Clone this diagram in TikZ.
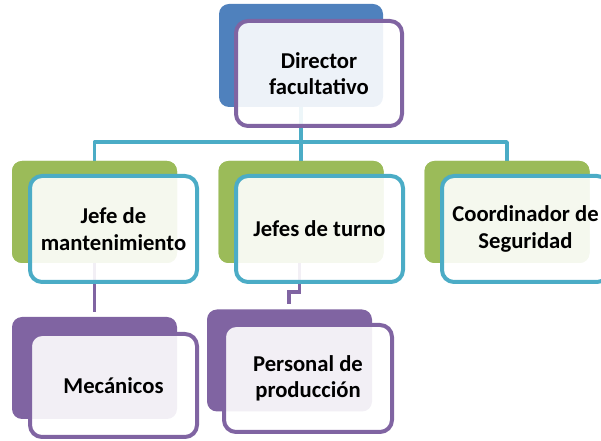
\documentclass[tikz,border=0pt]{standalone}
\usepackage{fontspec}
\setmainfont{Carlito}
\definecolor{cblue}{HTML}{4F81BD}
\definecolor{cpurple}{HTML}{8064A2}
\definecolor{cgreen}{HTML}{9BBB59}
\definecolor{cteal}{HTML}{4BACC6}
\begin{document}
\begin{tikzpicture}[x=0.75pt,y=-0.75pt,
  backbox/.style={rectangle, rounded corners=7.5pt, inner sep=0pt, minimum width=123.75pt, minimum height=76.5pt},
  frontbox/.style={rectangle, rounded corners=9pt, line width=3pt, fill=white, fill opacity=0.9, text opacity=1,
     inner sep=0pt, minimum width=125.25pt, minimum height=79.5pt, align=center,
     font=\fontsize{17}{20}\selectfont\bfseries},
  conn/.style={line width=2.6pt},
]
\useasboundingbox (0,0) rectangle (601,441);
\clip (0,0) rectangle (601,441);
% back boxes
\node[backbox, fill=cblue, minimum width=123pt, minimum height=77.25pt] (dirb) at (301,55.5) {};
\node[backbox, fill=cgreen] (jmb) at (94.5,212) {};
\node[backbox, fill=cgreen] (jtb) at (301,212) {};
\node[backbox, fill=cgreen] (csb) at (507,212) {};
\node[backbox, fill=cpurple] (mecb) at (94.5,368) {};
\node[backbox, fill=cpurple] (ppb) at (289.5,360.5) {};
% connectors
\coordinate (hb) at (300,142);
\draw[conn, cteal] (dirb.south) -- (dirb.south |- hb);
\draw[conn, cteal, line join=round] (jmb.north) -- (jmb.north |- hb) -- (csb.north |- hb) -- (csb.north);
\draw[conn, cteal] (jtb.north) -- (jtb.north |- hb);
\coordinate (mecend) at (94.5,312);
\draw[conn, cpurple] (jmb.south) -- (mecend);
\coordinate (ppend) at (289,304);
\draw[conn, cpurple] (299.5,263) -- (299.5,292) -- (289,292) -- (ppend);
% re-draw back boxes over connector ends
\node[backbox, fill=cgreen] at (94.5,212) {};
\node[backbox, fill=cgreen] at (301,212) {};
\node[backbox, fill=cgreen] at (507,212) {};
% front boxes
\node[frontbox, draw=cpurple, minimum width=124.5pt, minimum height=78.75pt] (dir) at (319,73.5) {Director\\facultativo};
\node[frontbox, draw=cteal] (jm) at (113.5,229) {Jefe de\\mantenimiento};
\node[frontbox, draw=cteal] (jt) at (319.5,229) {Jefes de turno};
\node[frontbox, draw=cteal] (cs) at (525.5,229) {Coordinador de\\Seguridad};
\node[frontbox, draw=cpurple, minimum height=77.25pt] (mec) at (113.5,385.5) {Mecánicos};
\node[frontbox, draw=cpurple, minimum width=126pt, minimum height=80.25pt] (pp) at (308,378.5) {Personal de\\producción};
\end{tikzpicture}
\end{document}
